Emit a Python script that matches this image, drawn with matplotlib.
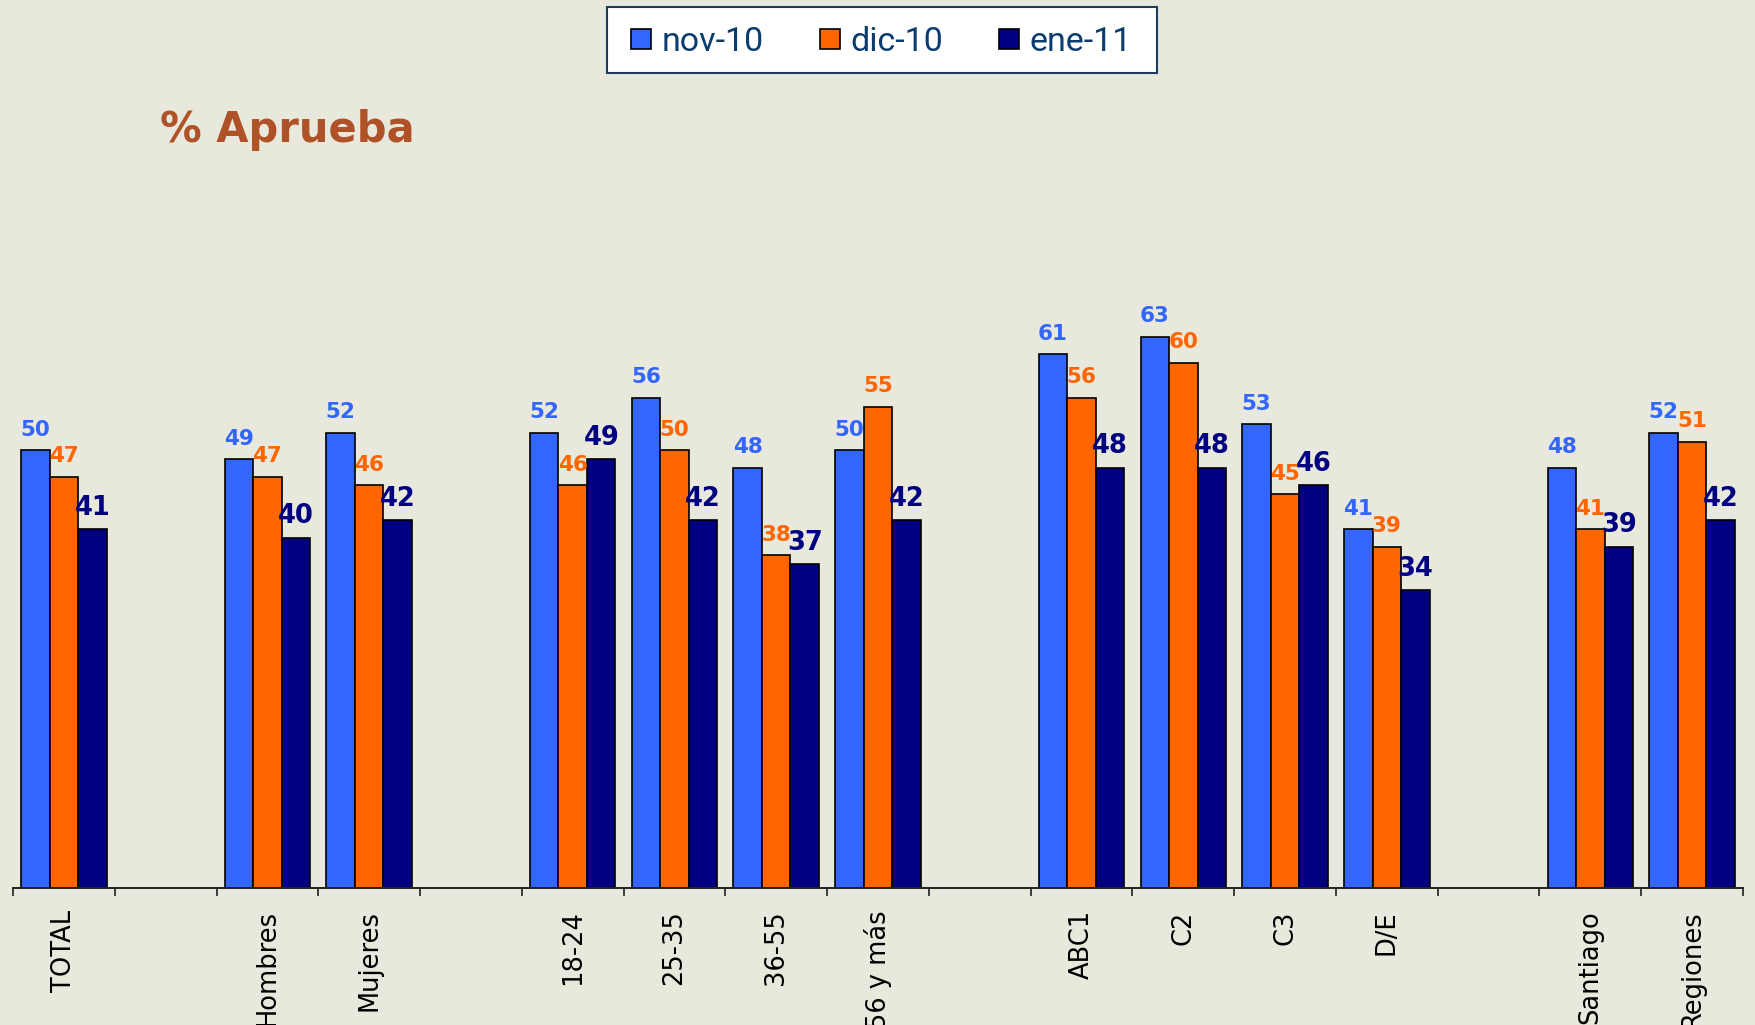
import matplotlib
matplotlib.use("Agg")
import matplotlib.pyplot as plt
from matplotlib.lines import Line2D
from matplotlib.patches import Rectangle
import numpy as np

# slots, empty strings are spacer slots between groups
categories = ["TOTAL", "", "Hombres", "Mujeres", "", "18-24", "25-35", "36-55",
              "56 y más", "", "ABC1", "C2", "C3", "D/E", "", "Santiago", "Regiones"]
series_names = ["nov-10", "dic-10", "ene-11"]
nov_10 = [50, None, 49, 52, None, 52, 56, 48, 50, None, 61, 63, 53, 41, None, 48, 52]
dic_10 = [47, None, 47, 46, None, 46, 50, 38, 55, None, 56, 60, 45, 39, None, 41, 51]
ene_11 = [41, None, 40, 42, None, 49, 42, 37, 42, None, 48, 48, 46, 34, None, 39, 42]

BG = "#E8E8DD"
colors = ["#3366FF", "#FF6600", "#000080"]
label_sizes = [15.5, 15.5, 18.5]

fig = plt.figure(figsize=(17.56, 10.25), dpi=100)
fig.patch.set_facecolor(BG)
ax = fig.add_axes([0.0074, 0.1337, 0.9852, 0.683])
ax.set_facecolor(BG)

x = np.arange(len(categories))
width = 0.28
for i, (vals, col, fs) in enumerate(zip([nov_10, dic_10, ene_11], colors, label_sizes)):
    xs = [xi + (i - 1) * width for xi, v in zip(x, vals) if v is not None]
    ys = [v for v in vals if v is not None]
    ax.bar(xs, ys, width=width, color=col, edgecolor="black", linewidth=1.2, zorder=2)
    for xv, yv in zip(xs, ys):
        ax.annotate(f"{yv}", (xv, yv), xytext=(0, 10.5), textcoords="offset points",
                    ha="center", va="baseline", color=col, fontsize=fs,
                    fontweight="bold", family="DejaVu Sans")

ax.set_xlim(-0.5, len(categories) - 0.5)
ax.set_ylim(0, 80)
ax.set_yticks([])
for s in ["left", "right", "top"]:
    ax.spines[s].set_visible(False)
ax.spines["bottom"].set_linewidth(1.4)
ax.spines["bottom"].set_color("#222222")

ax.set_xticks(x)
ax.set_xticklabels(categories, rotation=90, fontsize=18.5, va="top", ha="center")
ax.tick_params(axis="x", which="major", length=0, pad=16)
ax.set_xticks(np.arange(-0.5, len(categories)), minor=True)
ax.tick_params(axis="x", which="minor", length=6, width=1.2, color="#222222", direction="out")

fig.text(0.0911, 0.8615, "% Aprueba", color="#AF5228", fontsize=30,
         fontweight="bold", va="baseline", ha="left", family="DejaVu Sans")

# legend frame drawn separately (wider side padding than top/bottom)
fig.patches.append(Rectangle((0.3457, 0.9288), 0.3132, 0.0644, transform=fig.transFigure,
                             facecolor="white", edgecolor="#1F3864", linewidth=1.5, zorder=1))
handles = [Line2D([], [], marker="s", linestyle="none", markersize=15,
                  markerfacecolor=c, markeredgecolor="black", markeredgewidth=1.2)
           for c in colors]
leg = fig.legend(handles, series_names, loc="center", bbox_to_anchor=(0.502, 0.9595),
                 ncol=3, frameon=False, handlelength=0.6, borderaxespad=0,
                 handletextpad=0.3, columnspacing=1.65, borderpad=0,
                 prop={"family": ["Roboto", "DejaVu Sans"], "size": 24.5})
leg.set_zorder(2)
for t in leg.get_texts():
    t.set_color("#0B3C6E")

fig.savefig("out.png", dpi=100, facecolor=BG)
